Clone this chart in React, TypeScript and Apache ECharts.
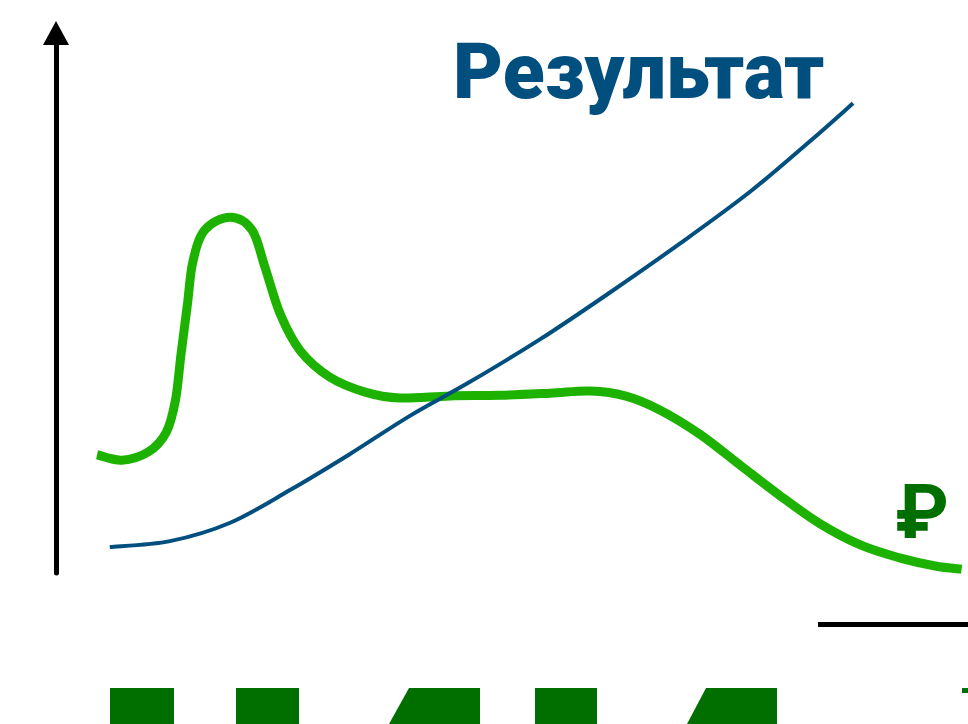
import React, { useEffect, useRef } from "react";
import * as echarts from "echarts";

// Conceptual curves (x: time, 0..100; y: value, 0..100)
const costX = [4.5, 7.2, 10.1, 12.1, 13.1, 13.7, 14.4, 15.0, 16.3, 19.1, 21.5, 22.9, 24.6, 26.8, 30.0, 33.9, 37.7, 43.2, 48.7, 54.2, 58.6, 62.4, 66.2, 70.6, 75.0, 79.4, 83.8, 88.2, 92.5, 96.4, 99.3];
const costY = [21.9, 20.9, 22.4, 26.1, 32.0, 40.4, 49.6, 57.6, 63.5, 65.9, 63.5, 56.7, 47.9, 41.1, 36.3, 33.5, 32.4, 32.8, 32.9, 33.3, 33.7, 32.8, 30.2, 25.7, 20.0, 14.3, 9.1, 5.2, 2.8, 1.3, 0.7];

const resultX = [5.9, 12.5, 19.1, 25.7, 32.2, 38.8, 45.4, 53.1, 60.7, 68.4, 76.1, 82.7, 87.4];
const resultY = [4.8, 5.9, 9.3, 15.4, 22.0, 29.1, 35.4, 43.3, 51.9, 61.0, 70.6, 80.0, 87.0];

const titleText = "Результат";
const currencyText = "₽";

const BLUE = "#004f7f";
const GREEN = "#1eb200";
const DARK_GREEN = "#006f00";

// Smooth curve (Catmull-Rom as cubic Béziers) through already-projected pixel points
function splinePath(pts: number[][]): string {
  let d = `M${pts[0][0]},${pts[0][1]}`;
  const t = 1 / 6;
  for (let i = 0; i < pts.length - 1; i++) {
    const p0 = pts[i - 1] || pts[i];
    const p1 = pts[i];
    const p2 = pts[i + 1];
    const p3 = pts[i + 2] || p2;
    const c1x = p1[0] + (p2[0] - p0[0]) * t;
    const c1y = p1[1] + (p2[1] - p0[1]) * t;
    const c2x = p2[0] - (p3[0] - p1[0]) * t;
    const c2y = p2[1] - (p3[1] - p1[1]) * t;
    d += ` C${c1x},${c1y} ${c2x},${c2y} ${p2[0]},${p2[1]}`;
  }
  return d;
}

function curveSeries(name: string, xs: number[], ys: number[], color: string, width: number) {
  return {
    type: "custom",
    name,
    data: xs.map((x, i) => [x, ys[i]]),
    encode: { x: 0, y: 1 },
    clip: false,
    renderItem: (params: any, api: any) => {
      if (params.dataIndex !== 0) return null;
      const pts = xs.map((x, i) => api.coord([x, ys[i]]));
      return {
        type: "path",
        shape: { pathData: splinePath(pts) },
        style: { stroke: color, lineWidth: width, fill: "none", lineCap: "butt" },
      };
    },
  };
}

export default function App() {
  const ref = useRef<HTMLDivElement>(null);
  useEffect(() => {
    if (!ref.current) return;
    const chart = echarts.init(ref.current, null, { renderer: "svg" });
    chart.setOption({
      animation: false,
      backgroundColor: "#ffffff",
      grid: { left: 56, right: 0, top: 33, bottom: 151 },
      xAxis: { type: "value", min: 0, max: 100, show: false },
      yAxis: {
        type: "value",
        min: 0,
        max: 100,
        axisLine: {
          show: true,
          symbol: ["none", "triangle"],
          symbolSize: [26, 24],
          lineStyle: { color: "#000", width: 5 },
        },
        axisTick: { show: false },
        axisLabel: { show: false },
        splitLine: { show: false },
      },
      series: [
        curveSeries("Затраты", costX, costY, GREEN, 9),
        curveSeries("Результат", resultX, resultY, BLUE, 4),
      ],
      graphic: [
        {
          type: "text",
          x: 453,
          y: 110,
          style: {
            text: titleText,
            font: "900 77px Roboto",
            fill: BLUE,
            verticalAlign: "bottom",
          },
        },
        {
          type: "text",
          x: 922,
          y: 512,
          style: {
            text: currencyText,
            font: "bold 76px Roboto",
            fill: DARK_GREEN,
            align: "center",
            verticalAlign: "middle",
          },
        },
        {
          type: "line",
          shape: { x1: 818, y1: 624.5, x2: 968, y2: 624.5 },
          style: { stroke: "#000", lineWidth: 5 },
        },
        { type: "polygon", shape: { points: [[110, 688], [174, 688], [174, 724], [110, 724]] }, style: { fill: DARK_GREEN } },
        { type: "polygon", shape: { points: [[236, 688], [299, 688], [299, 724], [236, 724]] }, style: { fill: DARK_GREEN } },
        { type: "polygon", shape: { points: [[409, 688], [480, 688], [480, 724], [389, 724]] }, style: { fill: DARK_GREEN } },
        { type: "polygon", shape: { points: [[535, 688], [597, 688], [597, 724], [535, 724]] }, style: { fill: DARK_GREEN } },
        { type: "polygon", shape: { points: [[706, 688], [777, 688], [777, 724], [687, 724]] }, style: { fill: DARK_GREEN } },
        { type: "polygon", shape: { points: [[962, 688], [968, 688], [968, 693], [962, 693]] }, style: { fill: DARK_GREEN } },
      ],
    });
    return () => chart.dispose();
  }, []);
  return (
    <div
      ref={ref}
      style={{ position: "fixed", left: 0, top: 0, width: 968, height: 724 }}
    />
  );
}
